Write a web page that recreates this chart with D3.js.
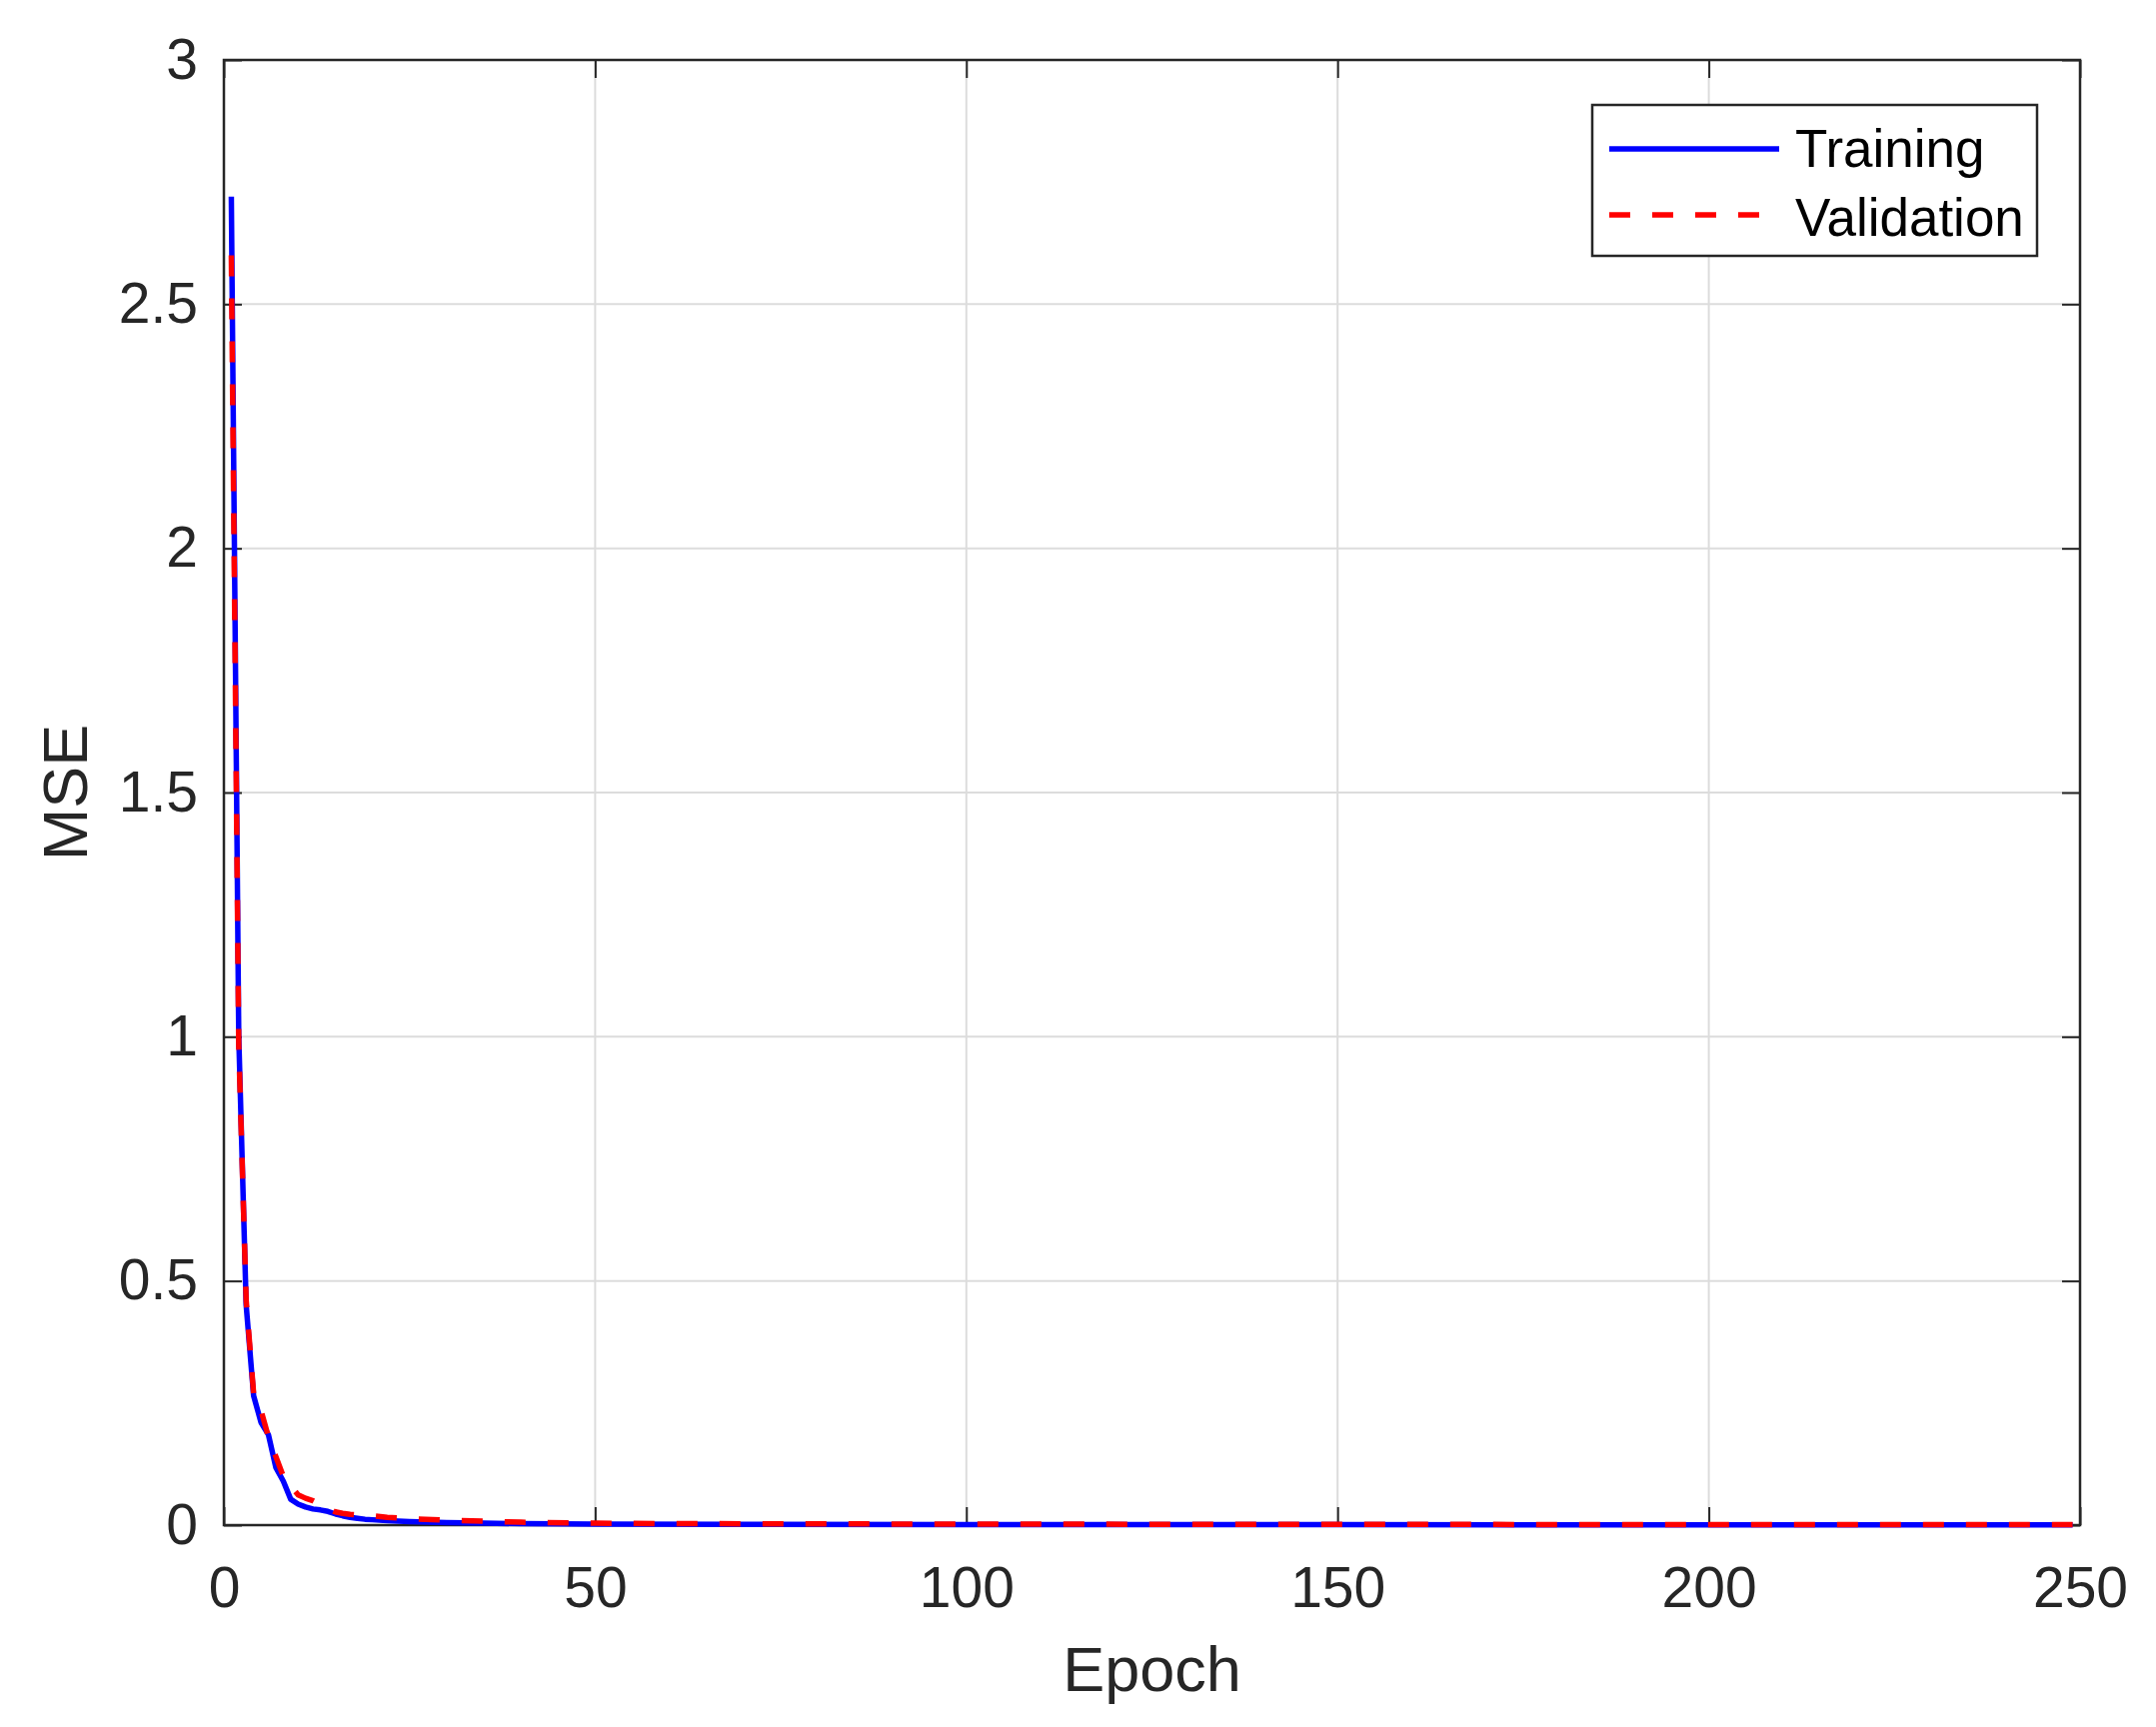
<!DOCTYPE html>
<html>
<head>
<meta charset="utf-8">
<script src="https://cdn.jsdelivr.net/npm/d3@7"></script>
<style>
  html, body { margin: 0; padding: 0; background: #ffffff; }
  svg { display: block; font-family: "Liberation Sans", Arial, Helvetica, sans-serif; }
</style>
</head>
<body>
<svg id="chart" width="2157" height="1728"></svg>
<script>
// ---- Data ----
const trainEpochs = [1, 2, 3, 4, 5, 6, 7, 8, 9, 10, 11, 12, 13, 14, 15, 16, 17, 18, 19, 20, 22, 25, 30, 35, 40, 50, 70, 100, 150, 200, 249];
const trainMSE    = [2.72, 1.00, 0.45, 0.265, 0.21, 0.185, 0.118, 0.09, 0.053, 0.043, 0.037, 0.033, 0.031, 0.028, 0.023, 0.019, 0.016, 0.014, 0.012, 0.011, 0.009, 0.007, 0.005, 0.004, 0.003, 0.002, 0.0015, 0.001, 0.0008, 0.0006, 0.0005];

const valEpochs = [1, 2, 3, 4, 5, 6, 7, 8, 9, 10, 11, 12, 13, 14, 15, 16, 17, 18, 19, 20, 22, 25, 30, 35, 40, 50, 60, 80, 100, 150, 200, 249];
const valMSE    = [2.60, 0.98, 0.46, 0.27, 0.235, 0.18, 0.14, 0.10, 0.08, 0.062, 0.055, 0.05, 0.042, 0.034, 0.027, 0.024, 0.022, 0.021, 0.020, 0.019, 0.016, 0.013, 0.010, 0.008, 0.006, 0.004, 0.003, 0.0025, 0.002, 0.0015, 0.001, 0.001];

const xTicks = [0, 50, 100, 150, 200, 250];
const xTickLabels = ["0", "50", "100", "150", "200", "250"];
const yTicks = [0, 0.5, 1, 1.5, 2, 2.5, 3];
const yTickLabels = ["0", "0.5", "1", "1.5", "2", "2.5", "3"];

const seriesNames = ["Training", "Validation"];
const xLabel = "Epoch";
const yLabel = "MSE";

// ---- Layout ----
const L = 224, R = 2081, T = 60, B = 1526;
const svg = d3.select("#chart");

const x = d3.scaleLinear().domain([0, 250]).range([L, R]);
const y = d3.scaleLinear().domain([0, 3]).range([B, T]);

const axisColor = "#262626";
const tickFont = 57;
const lineW = 5.5;

// grid
const grid = svg.append("g");
grid.selectAll("line.vx").data(xTicks.slice(1, -1)).enter().append("line")
  .attr("x1", d => x(d)).attr("x2", d => x(d)).attr("y1", T).attr("y2", B)
  .attr("stroke", "#dcdcdc").attr("stroke-width", 2);
grid.selectAll("line.hy").data(yTicks.slice(1, -1)).enter().append("line")
  .attr("x1", L).attr("x2", R).attr("y1", d => y(d)).attr("y2", d => y(d))
  .attr("stroke", "#dcdcdc").attr("stroke-width", 2);

function styleAxis(g) {
  g.select(".domain").remove();
  g.selectAll(".tick line").attr("stroke", axisColor).attr("stroke-width", 2);
  g.selectAll(".tick text").attr("fill", axisColor).attr("font-size", tickFont)
    .attr("font-family", "'Liberation Sans', Arial, sans-serif");
}

// bottom axis
const gx = svg.append("g").attr("transform", `translate(0,${B})`)
  .call(d3.axisBottom(x).tickValues(xTicks)
    .tickFormat((d, i) => xTickLabels[i]).tickSize(-18).tickPadding(42));
styleAxis(gx);

// left axis
const gy = svg.append("g").attr("transform", `translate(${L},0)`)
  .call(d3.axisLeft(y).tickValues(yTicks)
    .tickFormat((d, i) => yTickLabels[i]).tickSize(-18).tickPadding(26));
styleAxis(gy);

// top & right axes (ticks only)
const gt = svg.append("g").attr("transform", `translate(0,${T})`)
  .call(d3.axisTop(x).tickValues(xTicks).tickFormat("").tickSize(-18));
styleAxis(gt);
const gr = svg.append("g").attr("transform", `translate(${R},0)`)
  .call(d3.axisRight(y).tickValues(yTicks).tickFormat("").tickSize(-18));
styleAxis(gr);

// box
svg.append("rect").attr("x", L).attr("y", T).attr("width", R - L).attr("height", B - T)
  .attr("fill", "none").attr("stroke", axisColor).attr("stroke-width", 2.5);

// lines
const line = d3.line().x(d => x(d[0])).y(d => y(d[1]));
const trainData = trainEpochs.map((e, i) => [e, trainMSE[i]]);
const valData = valEpochs.map((e, i) => [e, valMSE[i]]);

svg.append("path").datum(trainData).attr("d", line)
  .attr("fill", "none").attr("stroke", "#0000ff").attr("stroke-width", lineW)
  .attr("stroke-linejoin", "round");
svg.append("path").datum(valData).attr("d", line)
  .attr("fill", "none").attr("stroke", "#ff0000").attr("stroke-width", lineW)
  .attr("stroke-dasharray", "21,22").attr("stroke-linejoin", "round");

// axis labels
svg.append("text").attr("x", (L + R) / 2).attr("y", 1692)
  .attr("text-anchor", "middle").attr("font-size", 63).attr("fill", axisColor)
  .text(xLabel);
svg.append("text").attr("transform", `translate(87,${(T + B) / 2}) rotate(-90)`)
  .attr("text-anchor", "middle").attr("font-size", 63).attr("fill", axisColor)
  .text(yLabel);

// legend
const leg = svg.append("g");
leg.append("rect").attr("x", 1593).attr("y", 105).attr("width", 445).attr("height", 151)
  .attr("fill", "#ffffff").attr("stroke", axisColor).attr("stroke-width", 2.5);
leg.append("line").attr("x1", 1610).attr("x2", 1780).attr("y1", 149).attr("y2", 149)
  .attr("stroke", "#0000ff").attr("stroke-width", lineW);
leg.append("line").attr("x1", 1610).attr("x2", 1780).attr("y1", 215).attr("y2", 215)
  .attr("stroke", "#ff0000").attr("stroke-width", lineW).attr("stroke-dasharray", "21,22");
leg.append("text").attr("x", 1796).attr("y", 167).attr("font-size", 53).attr("fill", "#000")
  .text(seriesNames[0]);
leg.append("text").attr("x", 1796).attr("y", 235.5).attr("font-size", 53).attr("fill", "#000")
  .text(seriesNames[1]);
</script>
</body>
</html>
